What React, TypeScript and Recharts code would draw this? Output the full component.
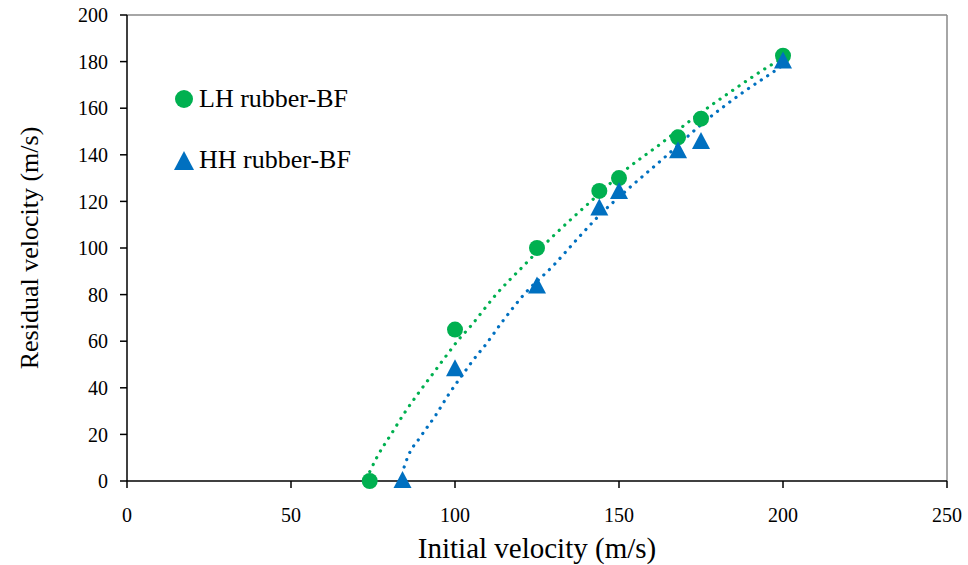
import React from "react";
import {
  ComposedChart,
  Line,
  Scatter,
  XAxis,
  YAxis,
  ReferenceLine,
} from "recharts";

// measured points
const lhInitial = [74, 100, 125, 144, 150, 168, 175, 200];
const lhResidual = [0, 65, 100, 124.5, 130, 147.5, 155.5, 182.5];
const hhInitial = [84, 100, 125, 144, 150, 168, 175, 200];
const hhResidual = [0, 48, 83.5, 117, 124, 141.5, 145.5, 180];

// dotted trend curves
const lhTrendX = [74, 76.5, 80.5, 84.5, 89, 93.5, 98, 101, 104.5, 112.5, 121, 128, 135.5, 141, 152, 162.5, 172.5, 184.5, 197.5, 200];
const lhTrendY = [4, 11, 20, 29, 38, 46.5, 55, 60.5, 66, 80, 92.5, 102.5, 112.5, 119.5, 133.5, 144.5, 155.5, 167.5, 179.5, 181.5];
const hhTrendX = [84.5, 85.5, 89.5, 94, 98, 102.5, 107, 108.5, 114.5, 121, 130, 138, 144, 152.5, 164, 175.5, 187.5, 198, 200];
const hhTrendY = [6, 10, 19, 28, 37, 46, 54.5, 57, 68.5, 80, 92.5, 105, 114, 125, 139, 153.5, 166.5, 176.5, 178.5];

const xTicks = [0, 50, 100, 150, 200, 250];
const yTicks = [0, 20, 40, 60, 80, 100, 120, 140, 160, 180, 200];

const GREEN = "#00B050";
const BLUE = "#0070C0";
const FONT = "Liberation Serif, DejaVu Serif, serif";

const lhData = lhInitial.map((x, i) => ({ x, y: lhResidual[i] }));
const hhData = hhInitial.map((x, i) => ({ x, y: hhResidual[i] }));
const lhTrend = lhTrendX.map((x, i) => ({ x, y: lhTrendY[i] }));
const hhTrend = hhTrendX.map((x, i) => ({ x, y: hhTrendY[i] }));

const Dot = (props: any) => <circle cx={props.cx} cy={props.cy} r={8} fill={GREEN} />;

const Tri = (props: any) => {
  const { cx, cy } = props;
  return (
    <polygon
      points={`${cx},${cy - 10} ${cx - 9},${cy + 7} ${cx + 9},${cy + 7}`}
      fill={BLUE}
    />
  );
};

function LegendBox() {
  const row = { display: "flex", alignItems: "center", height: 30, marginBottom: 31 } as const;
  return (
    <div style={{ position: "absolute", left: 172, top: 84, fontFamily: FONT, fontSize: 26, color: "#000" }}>
      <div style={row}>
        <svg width={24} height={24}>
          <circle cx={12} cy={12} r={9} fill={GREEN} />
        </svg>
        <span style={{ marginLeft: 3 }}>LH rubber-BF</span>
      </div>
      <div style={row}>
        <svg width={24} height={24}>
          <polygon points="12,3 2,22 22,22" fill={BLUE} />
        </svg>
        <span style={{ marginLeft: 3 }}>HH rubber-BF</span>
      </div>
    </div>
  );
}

export default function App() {
  const tickStyle = { fill: "#000", fontSize: 20, fontFamily: FONT };
  return (
    <div style={{ position: "absolute", left: 0, top: 0, width: 968, height: 565, background: "#fff", fontFamily: FONT }}>
      <ComposedChart width={968} height={565} margin={{ top: 15, right: 21, left: 0, bottom: 0 }} style={{ fontFamily: FONT }}>
        <XAxis
          type="number"
          dataKey="x"
          domain={[0, 250]}
          ticks={xTicks}
          tick={tickStyle}
          tickSize={7}
          tickMargin={20}
          height={84}
          stroke="#000"
          strokeWidth={1.5}
          label={{
            value: "Initial velocity (m/s)",
            position: "insideBottom",
            offset: 7,
            style: { fill: "#000", fontSize: 29, fontFamily: FONT },
          }}
        />
        <YAxis
          type="number"
          dataKey="y"
          domain={[0, 200]}
          ticks={yTicks}
          tick={tickStyle}
          tickSize={7}
          tickMargin={12}
          width={127}
          stroke="#000"
          strokeWidth={1.5}
          label={{
            value: "Residual velocity (m/s)",
            angle: -90,
            position: "insideLeft",
            offset: 29,
            style: { fill: "#000", fontSize: 26, fontFamily: FONT, textAnchor: "middle" },
          }}
        />
        <ReferenceLine y={200} stroke="#888" strokeWidth={1.5} />
        <ReferenceLine x={250} stroke="#888" strokeWidth={1.5} />
        <Line
          data={lhTrend}
          dataKey="y"
          type="monotone"
          stroke={GREEN}
          strokeWidth={3.2}
          strokeDasharray="0.1 7.6"
          strokeLinecap="round"
          dot={false}
          activeDot={false}
          legendType="none"
          isAnimationActive={false}
        />
        <Line
          data={hhTrend}
          dataKey="y"
          type="monotone"
          stroke={BLUE}
          strokeWidth={3.2}
          strokeDasharray="0.1 7.6"
          strokeLinecap="round"
          dot={false}
          activeDot={false}
          legendType="none"
          isAnimationActive={false}
        />
        <Scatter data={lhData} dataKey="y" shape={Dot} isAnimationActive={false} />
        <Scatter data={hhData} dataKey="y" shape={Tri} isAnimationActive={false} />
      </ComposedChart>
      <LegendBox />
    </div>
  );
}
